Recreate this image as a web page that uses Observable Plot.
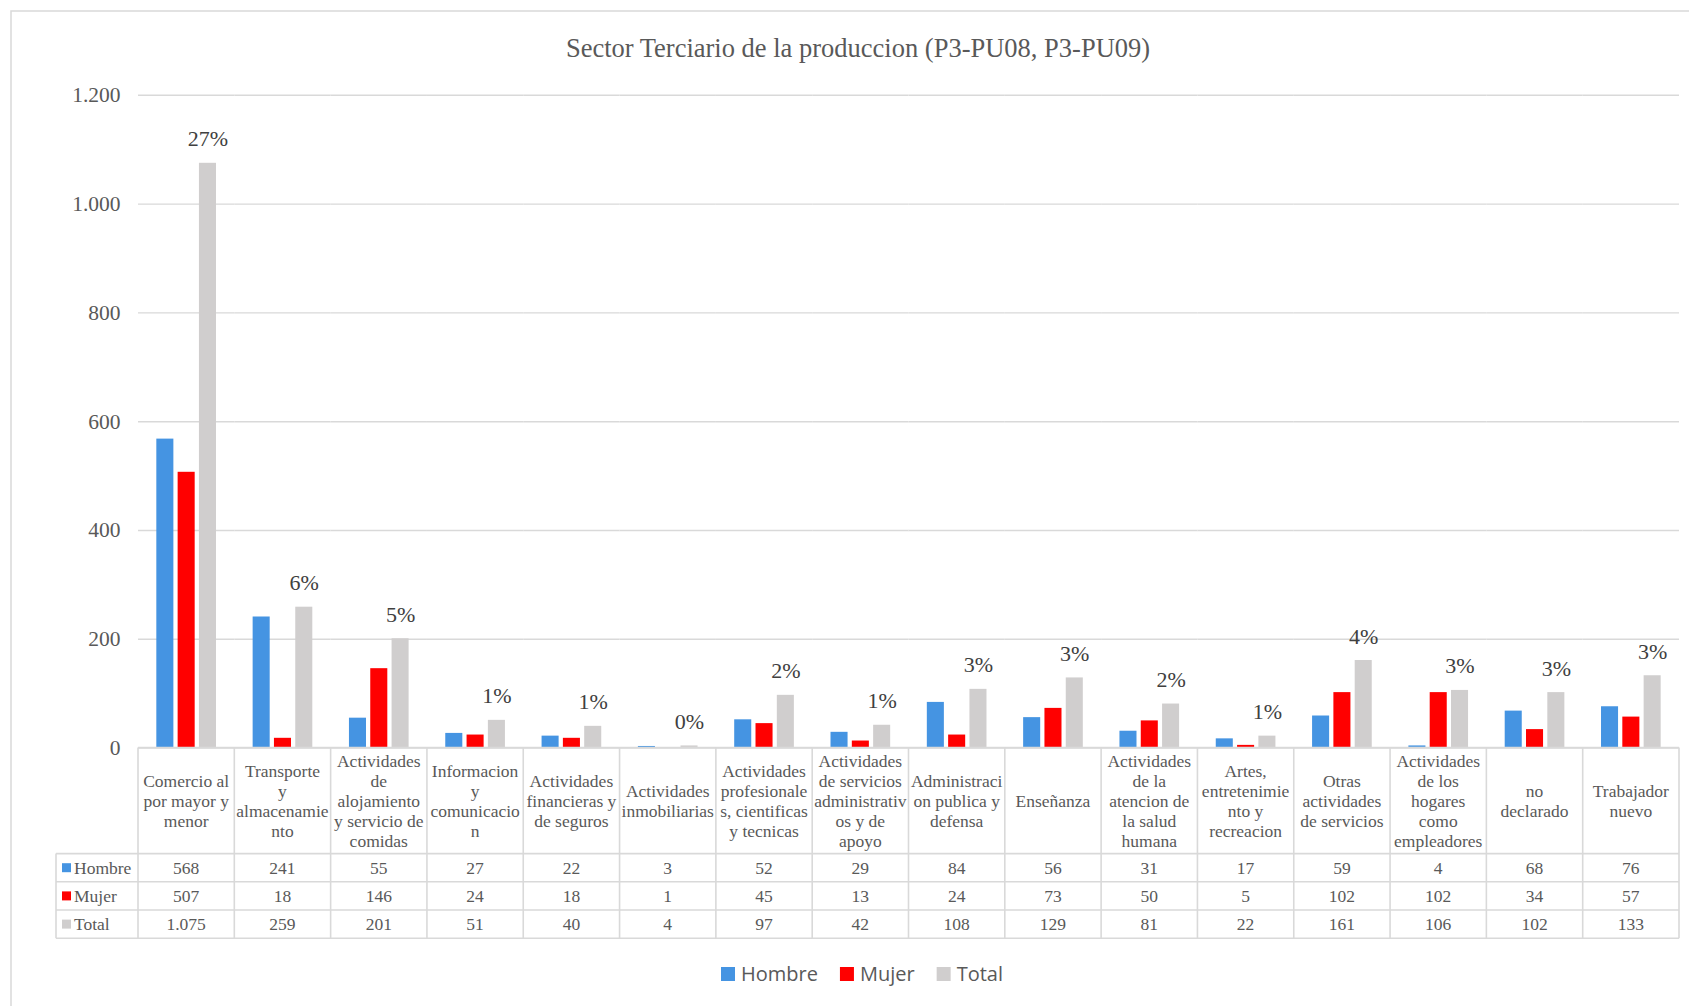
<!DOCTYPE html>
<html>
<head>
<meta charset="utf-8">
<script src="https://cdn.jsdelivr.net/npm/d3@7"></script>
<script src="https://cdn.jsdelivr.net/npm/@observablehq/plot@0.6"></script>
<style>
  html, body { margin: 0; padding: 0; background: #ffffff; }
  #chart { position: relative; width: 1689px; height: 1006px; overflow: hidden; }
</style>
</head>
<body>
<div id="chart"></div>
<script>
// ---------------- DATA ----------------
const title = "Sector Terciario de la produccion (P3-PU08, P3-PU09)";
const categories = [
  "Comercio al por mayor y menor",
  "Transporte y almacenamiento",
  "Actividades de alojamiento y servicio de comidas",
  "Informacion y comunicacion",
  "Actividades financieras y de seguros",
  "Actividades inmobiliarias",
  "Actividades profesionales, cientificas y tecnicas",
  "Actividades de servicios administrativos y de apoyo",
  "Administracion publica y defensa",
  "Enseñanza",
  "Actividades de la atencion de la salud humana",
  "Artes, entretenimiento y recreacion",
  "Otras actividades de servicios",
  "Actividades de los hogares como empleadores",
  "no declarado",
  "Trabajador nuevo"
];
// category tick labels as wrapped in the reference table
const categoryLabels = [
  "Comercio al\npor mayor y\nmenor",
  "Transporte\ny\nalmacenamie\nnto",
  "Actividades\nde\nalojamiento\ny servicio de\ncomidas",
  "Informacion\ny\ncomunicacio\nn",
  "Actividades\nfinancieras y\nde seguros",
  "Actividades\ninmobiliarias",
  "Actividades\nprofesionale\ns, cientificas\ny tecnicas",
  "Actividades\nde servicios\nadministrativ\nos y de\napoyo",
  "Administraci\non publica y\ndefensa",
  "Enseñanza",
  "Actividades\nde la\natencion de\nla salud\nhumana",
  "Artes,\nentretenimie\nnto y\nrecreacion",
  "Otras\nactividades\nde servicios",
  "Actividades\nde los\nhogares\ncomo\nempleadores",
  "no\ndeclarado",
  "Trabajador\nnuevo"
];
const series = ["Hombre", "Mujer", "Total"];
const hombre = [568, 241, 55, 27, 22, 3, 52, 29, 84, 56, 31, 17, 59, 4, 68, 76];
const mujer  = [507, 18, 146, 24, 18, 1, 45, 13, 24, 73, 50, 5, 102, 102, 34, 57];
const total  = [1075, 259, 201, 51, 40, 4, 97, 42, 108, 129, 81, 22, 161, 106, 102, 133];
const totalPctLabels = ["27%", "6%", "5%", "1%", "1%", "0%", "2%", "1%", "3%", "3%", "2%", "1%", "4%", "3%", "3%", "3%"];
const yTicks = [0, 200, 400, 600, 800, 1000, 1200];
const seriesColors = ["#4594e2", "#ff0000", "#d0cece"];

// ---------------- BUILD ----------------
const values = {Hombre: hombre, Mujer: mujer, Total: total};
const rows = categories.flatMap((c, i) => series.map(s => ({cat: c, series: s, value: values[s][i]})));
const totalRows = categories.map((c, i) => ({cat: c, series: "Total", value: total[i], label: totalPctLabels[i]}));
const fmt = d3.formatLocale({decimal: ",", thousands: ".", grouping: [3], currency: ["", ""]}).format(",");

const SERIF = "'Liberation Serif', 'Times New Roman', serif";
const SANS = "'Open Sans', 'Noto Sans', sans-serif";
const TEXT = "#595959";
const LINE = "#d9d9d9";

const W = 1689, H = 1006;
const plot = Plot.plot({
  width: W,
  height: H,
  marginTop: 94.8,
  marginBottom: 258.4,
  marginLeft: 138,
  marginRight: 10,
  style: {background: "#ffffff", fontFamily: SERIF, overflow: "visible"},
  fx: {domain: categories, axis: null, paddingInner: 0, paddingOuter: 0, round: false, label: null},
  x: {domain: series, axis: null, paddingInner: 0.2, paddingOuter: 0.86, round: false},
  y: {domain: [0, 1200], axis: null},
  color: {domain: series, range: seriesColors},
  marks: [
    Plot.gridY(yTicks, {stroke: LINE, strokeOpacity: 1, strokeWidth: 1.4}),
    Plot.axisY(yTicks, {tickSize: 0, tickPadding: 18, tickFormat: fmt, fontSize: 21.5, fill: TEXT, label: null, fontFamily: SERIF}),
    Plot.barY(rows, {fx: "cat", x: "series", y: "value", fill: "series"}),
    Plot.text(totalRows, {fx: "cat", x: "series", y: "value", text: "label", dy: -24, fontSize: 22, fill: "#404040", fontFamily: SERIF})
  ]
});

document.getElementById("chart").appendChild(plot);

// ---------------- TABLE, TITLE, LEGEND ----------------
const svg = d3.select(plot);
const fxs = plot.scale("fx");
const ys = plot.scale("y");
const bw = fxs.bandwidth;
const xL = fxs.range[0], xR = fxs.range[1];
const y0 = ys.apply(0);
const headerBottom = y0 + 106;
const rowH = 28.2;
const keyLeft = 56;
const tableBottom = headerBottom + 3 * rowH;

// outer chart border
svg.insert("rect", ":first-child")
  .attr("x", 11).attr("y", 11).attr("width", W + 20).attr("height", H + 20)
  .attr("fill", "#ffffff").attr("stroke", LINE).attr("stroke-width", 1.5);

const g = svg.append("g").attr("font-family", SERIF).attr("fill", TEXT);
// horizontal lines
g.append("line").attr("x1", xL).attr("x2", xR).attr("y1", y0).attr("y2", y0).attr("stroke", LINE).attr("stroke-width", 1.6);
for (let k = 0; k <= 3; k++) {
  const yy = headerBottom + k * rowH;
  g.append("line").attr("x1", keyLeft).attr("x2", xR).attr("y1", yy).attr("y2", yy).attr("stroke", LINE).attr("stroke-width", 1.6);
}
// vertical lines
categories.forEach((c, i) => {
  const x = fxs.apply(c);
  g.append("line").attr("x1", x).attr("x2", x).attr("y1", y0).attr("y2", tableBottom).attr("stroke", LINE).attr("stroke-width", 1.6);
});
g.append("line").attr("x1", xR).attr("x2", xR).attr("y1", y0).attr("y2", tableBottom).attr("stroke", LINE).attr("stroke-width", 1.6);
g.append("line").attr("x1", keyLeft).attr("x2", keyLeft).attr("y1", headerBottom).attr("y2", tableBottom).attr("stroke", LINE).attr("stroke-width", 1.6);

// header labels
const headerMid = (y0 + headerBottom) / 2;
const lineGap = 20;
categories.forEach((c, i) => {
  const cx = fxs.apply(c) + bw / 2;
  const lines = categoryLabels[i].split("\n");
  const t = g.append("text").attr("text-anchor", "middle").attr("font-size", 17.5);
  lines.forEach((ln, k) => {
    t.append("tspan").attr("x", cx)
      .attr("y", headerMid + (k - (lines.length - 1) / 2) * lineGap)
      .attr("dy", "0.35em").text(ln);
  });
});
// value rows
series.forEach((s, r) => {
  const cy = headerBottom + (r + 0.5) * rowH;
  g.append("rect").attr("x", 62).attr("y", cy - 4.5).attr("width", 9).attr("height", 9).attr("fill", seriesColors[r]);
  g.append("text").attr("x", 74).attr("y", cy).attr("dy", "0.35em").attr("text-anchor", "start").attr("font-size", 17.5).text(s);
  categories.forEach((c, i) => {
    g.append("text").attr("x", fxs.apply(c) + bw / 2).attr("y", cy).attr("dy", "0.35em")
      .attr("text-anchor", "middle").attr("font-size", 17.5).text(fmt(values[s][i]));
  });
});

// title
svg.append("text").attr("x", 858).attr("y", 56.5).attr("text-anchor", "middle")
  .attr("font-family", SERIF).attr("font-size", 26.5).attr("fill", TEXT).text(title);

// bottom legend
const lg = svg.append("g").attr("font-family", SANS).attr("font-size", 20).attr("fill", TEXT).attr("text-anchor", "start");
let lx = 721;
series.forEach((s, r) => {
  lg.append("rect").attr("x", lx).attr("y", 967).attr("width", 14).attr("height", 14).attr("fill", seriesColors[r]);
  const t = lg.append("text").attr("x", lx + 20).attr("y", 974).attr("dy", "0.35em").text(s);
  lx += 20 + t.node().getComputedTextLength() + 22;
});
</script>
</body>
</html>
